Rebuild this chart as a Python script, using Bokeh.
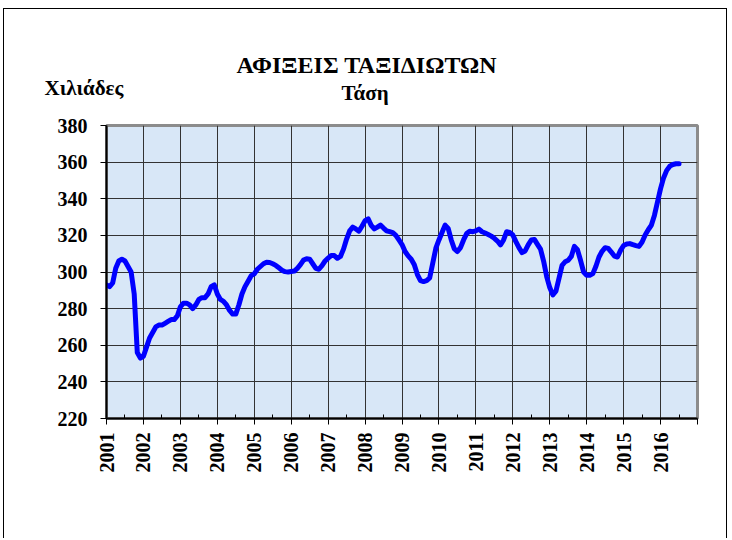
import math
from bokeh.plotting import figure
from bokeh.models import FixedTicker, LinearAxis, Range1d, Title
from bokeh.embed import file_html
from bokeh.resources import INLINE

# ---- texts ----
title_text = "ΑΦΙΞΕΙΣ ΤΑΞΙΔΙΩΤΩΝ"
subtitle_text = "Τάση"
unit_text = "Χιλιάδες"

# ---- data: monthly trend (thousands) ----
start_year = 2001
v2001 = [293, 292, 294, 302, 306, 307, 306, 303, 300, 288, 256, 253]
v2002 = [254, 259, 264, 267, 270, 271, 271, 272, 273, 274, 274, 276]
v2003 = [281, 283, 283, 282, 280, 282, 285, 286, 286, 288, 292, 293]
v2004 = [288, 285, 284, 282, 279, 277, 277, 282, 288, 292, 295, 298]
v2005 = [299, 301.5, 303, 304.5, 305.3, 305.2, 304.5, 303.6, 302.3, 301, 300.2, 300]
v2006 = [300.3, 300.5, 302, 304, 306.5, 307.2, 307, 304.5, 302, 301.5, 303.5, 306]
v2007 = [307.6, 309, 309, 307.5, 308.5, 312.5, 318, 322.5, 324.5, 323.5, 322.3, 325]
v2008 = [328, 329, 325.5, 323.5, 324.5, 325.6, 324, 322.5, 322, 321.5, 320, 317.5]
v2009 = [315, 311.2, 308.8, 307, 304, 298.6, 295.3, 294.8, 295.3, 296.8, 304.9, 313]
v2010 = [317.5, 321.6, 325.6, 323.8, 317.5, 312.6, 311.2, 313.3, 317.5, 321, 322.3, 322]
v2011 = [322.5, 323.4, 322, 321.3, 320.5, 319.6, 318.4, 316.9, 314.8, 317.5, 322, 321.6]
v2012 = [320.2, 316.6, 313.3, 310.6, 311.5, 314.8, 317.5, 317.8, 315.1, 312.5, 306, 297.5]
v2013 = [291.5, 287.5, 289.5, 296.5, 303.6, 305.6, 306.4, 308.5, 314, 312.2, 306.4, 300]
v2014 = [298.2, 298.2, 299.1, 303.1, 308.2, 311.3, 313.3, 312.9, 310.9, 308.7, 308.2, 311.8]
v2015 = [314.5, 315.3, 315.5, 314.9, 314.4, 314, 316.4, 320.2, 323.1, 325.5, 330.9, 338.2]
v2016 = [345.5, 351.5, 355.5, 357.8, 358.7, 359.1, 359.1]

values = (v2001 + v2002 + v2003 + v2004 + v2005 + v2006 + v2007 + v2008 +
          v2009 + v2010 + v2011 + v2012 + v2013 + v2014 + v2015 + v2016)
months = [start_year + i / 12 for i in range(len(values))]

year_ticks = list(range(2001, 2018))
half_year_ticks = [y + 0.5 for y in range(2001, 2017)]
value_ticks = [220, 240, 260, 280, 300, 320, 340, 360, 380]

FONT = "Liberation Serif"

p = figure(width=724, height=530, output_backend="svg", toolbar_location=None,
           x_range=Range1d(2001, 2017), y_range=Range1d(220, 380),
           min_border_left=102, min_border_right=31,
           min_border_top=116, min_border_bottom=121,
           background_fill_color="#d8e7f7", border_fill_color="white",
           styles={"margin-left": "3px", "margin-top": "8px",
                   "border-top": "1px solid black",
                   "border-left": "1px solid black", "border-right": "1px solid black"})

p.outline_line_color = "#8c8c8c"
p.outline_line_width = 3

# grids
p.xgrid.ticker = FixedTicker(ticks=year_ticks[1:-1])
p.ygrid.ticker = FixedTicker(ticks=value_ticks[1:-1])
p.xgrid.grid_line_color = "#333333"
p.ygrid.grid_line_color = "#333333"
p.xgrid.grid_line_width = 1
p.ygrid.grid_line_width = 1

# x axis
p.xaxis.ticker = FixedTicker(ticks=year_ticks, minor_ticks=half_year_ticks)
p.xaxis.major_label_overrides = {y: (str(y) if y <= 2016 else "") for y in year_ticks}
p.xaxis.major_label_orientation = math.pi / 2
p.xaxis.axis_line_color = "black"
p.xaxis.axis_line_width = 2
p.xaxis.major_tick_out = 6
p.xaxis.major_tick_in = 0
p.xaxis.minor_tick_in = 4
p.xaxis.minor_tick_out = 0
p.xaxis.major_tick_line_color = "black"
p.xaxis.minor_tick_line_color = "black"
p.xaxis.major_label_standoff = 8
p.xaxis.major_label_text_font = FONT
p.xaxis.major_label_text_font_style = "bold"
p.xaxis.major_label_text_font_size = "20px"
p.xaxis.major_label_text_color = "black"

# y axis
p.yaxis.ticker = FixedTicker(ticks=value_ticks)
p.yaxis.axis_line_color = "black"
p.yaxis.axis_line_width = 2
p.yaxis.major_tick_out = 6
p.yaxis.major_tick_in = 0
p.yaxis.minor_tick_line_color = None
p.yaxis.major_tick_line_color = "black"
p.yaxis.major_label_standoff = 13
p.yaxis.major_label_text_font = FONT
p.yaxis.major_label_text_font_style = "bold"
p.yaxis.major_label_text_font_size = "20px"
p.yaxis.major_label_text_color = "black"

# trend line
p.line(months, values, line_color="#0000ff", line_width=5,
       line_join="round", line_cap="round")

# subtitle, drawn as the label of an invisible top axis (centred over 2008)
sub_pos = 2008.0
header = LinearAxis(ticker=FixedTicker(ticks=[sub_pos]),
                    major_label_overrides={sub_pos: subtitle_text},
                    axis_line_color=None, major_tick_line_color=None,
                    minor_tick_line_color=None, major_tick_out=0, major_tick_in=0,
                    minor_tick_out=0, minor_tick_in=0,
                    major_label_standoff=21,
                    major_label_text_font=FONT, major_label_text_font_style="bold",
                    major_label_text_font_size="21px", major_label_text_color="black")
p.add_layout(header, "above")

# unit text at the top left (zero-height title row, shifted down beside the subtitle)
p.add_layout(Title(text=unit_text, align="left", offset=-62, standoff=-45,
                   text_font=FONT, text_font_style="bold", text_font_size="21px",
                   text_color="black"), "above")

# main title
p.add_layout(Title(text=title_text, align="left", offset=130, standoff=0,
                   text_font=FONT, text_font_style="bold", text_font_size="24px",
                   text_color="black"), "above")

open("out.html", "w").write(file_html(p, INLINE))
